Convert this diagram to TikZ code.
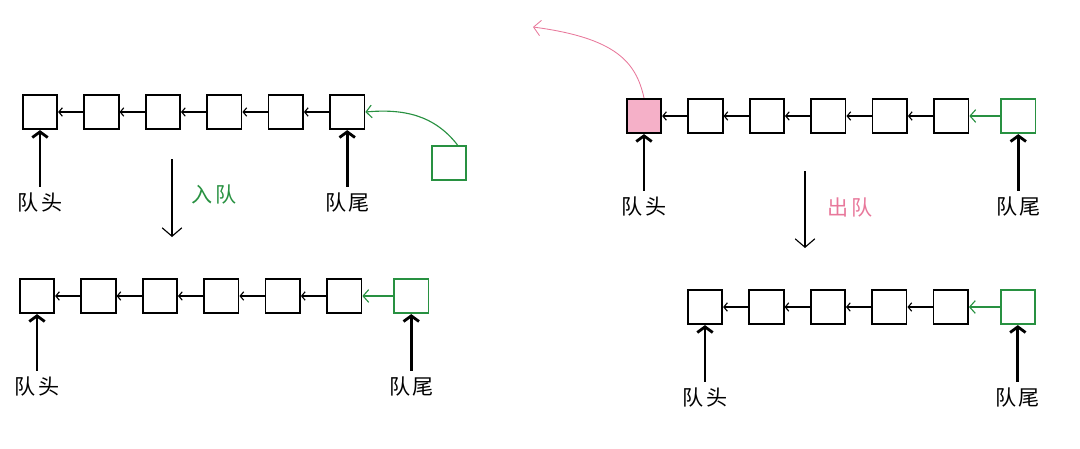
\documentclass[tikz,border=0pt]{standalone}
\usepackage{fontspec}
\usetikzlibrary{positioning,arrows.meta}
\newfontfamily\cjk[LetterSpace=10]{Noto Sans CJK SC}
\definecolor{QGreen}{RGB}{40,145,65}
\definecolor{QPink}{RGB}{232,120,155}
\definecolor{QPinkFill}{RGB}{245,176,200}

\begin{document}
\begin{tikzpicture}[x=0.025cm, y=0.025cm,
    node distance=0.63cm,
    box/.style={rectangle, draw=black, line width=1.3pt, fill=white,
                minimum size=0.86cm, inner sep=0pt},
    newbox/.style={box, draw=QGreen},
    outbox/.style={box, fill=QPinkFill},
    lbl/.style={font=\cjk\fontsize{15}{17}\selectfont, inner sep=4pt},
    link/.style={-{Straight Barb[length=2.5pt,width=6pt]}, line width=0.8pt},
    greenlink/.style={-{Straight Barb[length=4pt,width=9pt]}, line width=0.8pt, draw=QGreen},
    ptr/.style={-{Straight Barb[length=4pt,width=11pt]}, line width=2pt},
    move/.style={-{Straight Barb[length=6pt,width=14pt]}, line width=0.8pt}
]
    \useasboundingbox (0,0) rectangle (1080,-448);

    % enqueue: before
    \node[box] (a1) at (40,-112) {};
    \node[box, right=of a1] (a2) {};
    \node[box, right=of a2] (a3) {};
    \node[box, right=of a3] (a4) {};
    \node[box, right=of a4] (a5) {};
    \node[box, right=of a5] (a6) {};
    \node[newbox] (anew) at (449,-163) {};
    \node[lbl, below=1.42cm of a1] (ahead) {队头};
    \node[lbl, below=1.42cm of a6] (atail) {队尾};

    \draw[link] (a2) -- (a1);
    \draw[link] (a3) -- (a2);
    \draw[link] (a4) -- (a3);
    \draw[link] (a5) -- (a4);
    \draw[link] (a6) -- (a5);
    \draw[greenlink] ([xshift=6pt]anew.north) to[out=128,in=5] (a6.east);
    \draw[ptr] (ahead) -- (a1);
    \draw[ptr] (atail) -- (a6);

    \coordinate (in1) at (172,-159);
    \coordinate (in2) at (172,-237);
    \draw[move] (in1) -- (in2);
    \node[lbl, text=QGreen] (inlbl) at (214,-195) {入队};

    % enqueue: after
    \node[box] (b1) at (37,-296) {};
    \node[box, right=of b1] (b2) {};
    \node[box, right=of b2] (b3) {};
    \node[box, right=of b3] (b4) {};
    \node[box, right=of b4] (b5) {};
    \node[box, right=of b5] (b6) {};
    \node[newbox, right=0.77cm of b6] (b7) {};
    \node[lbl, below=1.42cm of b1] (bhead) {队头};
    \node[lbl, below=1.42cm of b7] (btail) {队尾};

    \draw[link] (b2) -- (b1);
    \draw[link] (b3) -- (b2);
    \draw[link] (b4) -- (b3);
    \draw[link] (b5) -- (b4);
    \draw[link] (b6) -- (b5);
    \draw[greenlink] (b7) -- (b6);
    \draw[ptr] (bhead) -- (b1);
    \draw[ptr] (btail) -- (b7);

    % dequeue: before
    \node[outbox] (c1) at (644,-116) {};
    \node[box, right=of c1] (c2) {};
    \node[box, right=of c2] (c3) {};
    \node[box, right=of c3] (c4) {};
    \node[box, right=of c4] (c5) {};
    \node[box, right=of c5] (c6) {};
    \node[newbox, right=0.77cm of c6] (c7) {};
    \node[lbl, below=1.42cm of c1] (chead) {队头};
    \node[lbl, below=1.42cm of c7] (ctail) {队尾};

    \draw[link] (c2) -- (c1);
    \draw[link] (c3) -- (c2);
    \draw[link] (c4) -- (c3);
    \draw[link] (c5) -- (c4);
    \draw[link] (c6) -- (c5);
    \draw[greenlink] (c7) -- (c6);
    \draw[ptr] (chead) -- (c1);
    \draw[ptr] (ctail) -- (c7);

    \coordinate (gone) at (533,-27);
    \draw[-{Straight Barb[length=5pt,width=11pt]}, line width=0.6pt, draw=QPink]
        (c1.north) .. controls (636,-62) and (616,-38) .. (gone);

    \coordinate (out1) at (805,-171);
    \coordinate (out2) at (805,-248);
    \draw[move] (out1) -- (out2);
    \node[lbl, text=QPink] (outlbl) at (850,-208) {出队};

    % dequeue: after
    \node[box] (d1) at (705,-307) {};
    \node[box, right=of d1] (d2) {};
    \node[box, right=of d2] (d3) {};
    \node[box, right=of d3] (d4) {};
    \node[box, right=of d4] (d5) {};
    \node[newbox, right=0.77cm of d5] (d6) {};
    \node[lbl, below=1.42cm of d1] (dhead) {队头};
    \node[lbl, below=1.42cm of d6] (dtail) {队尾};

    \draw[link] (d2) -- (d1);
    \draw[link] (d3) -- (d2);
    \draw[link] (d4) -- (d3);
    \draw[link] (d5) -- (d4);
    \draw[greenlink] (d6) -- (d5);
    \draw[ptr] (dhead) -- (d1);
    \draw[ptr] (dtail) -- (d6);
\end{tikzpicture}
\end{document}
